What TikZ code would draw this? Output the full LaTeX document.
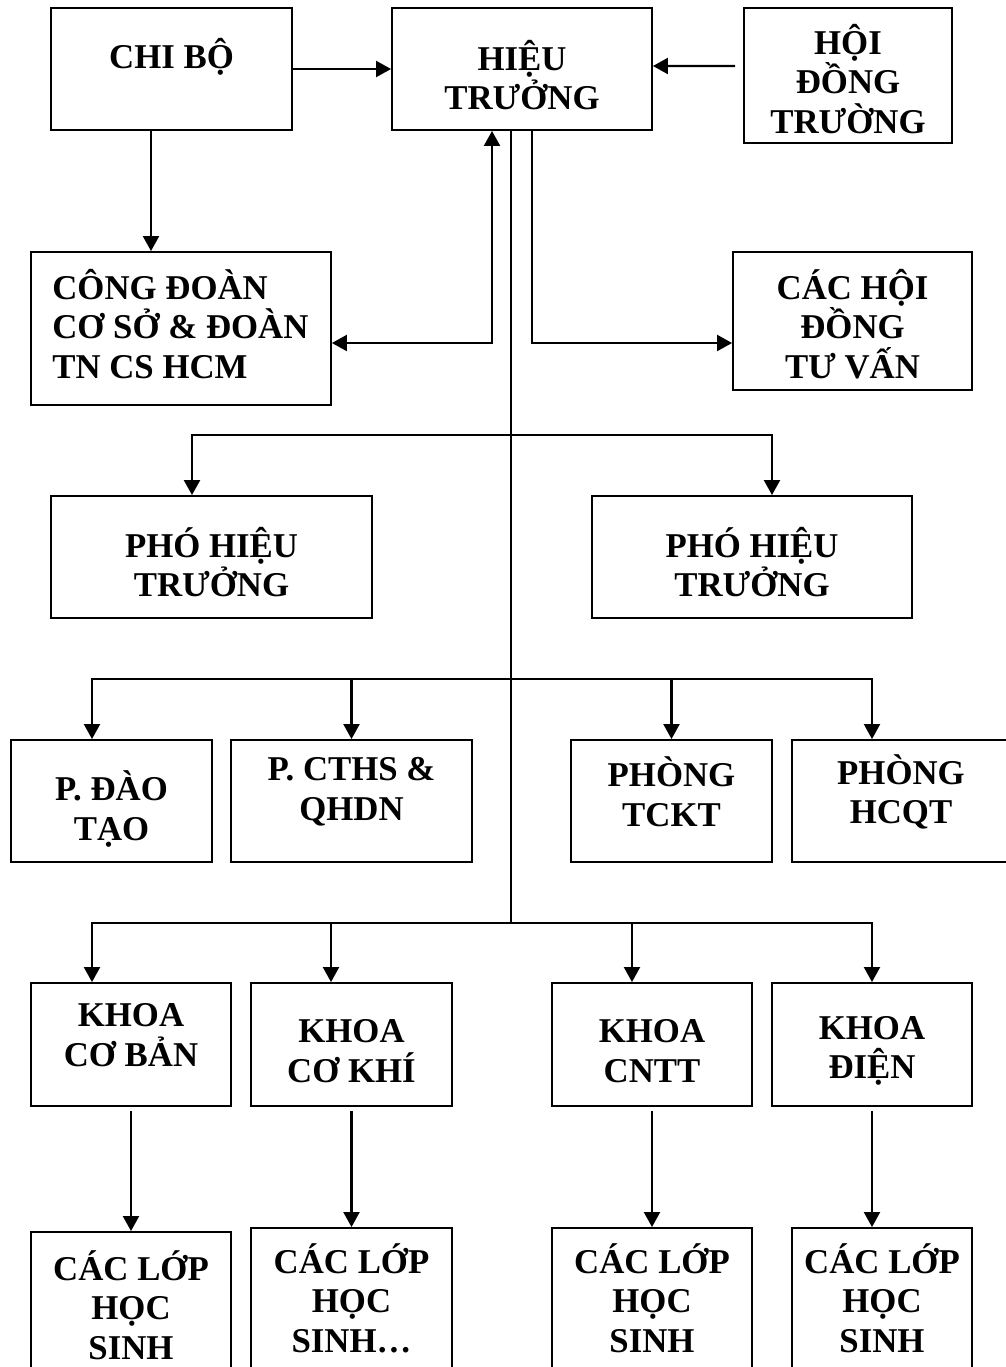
\documentclass[tikz,border=0pt]{standalone}
\usepackage{fontspec}
\setmainfont{Liberation Serif}
\usepackage{tikz}
\usetikzlibrary{arrows.meta,positioning}

\begin{document}
\begin{tikzpicture}[
        x=0.02cm, y=-0.02cm,
        box/.style={draw, line width=1.1pt, inner sep=0pt},
        txt/.style={align=center, inner sep=0pt, font=\bfseries\fontsize{19.8}{22.5}\selectfont},
        arr/.style={line width=1.2pt, -{Triangle[length=0.3cm,width=0.32cm]}},
        twoway/.style={line width=1.2pt, {Triangle[length=0.3cm,width=0.32cm]}-{Triangle[length=0.3cm,width=0.32cm]}},
        trunk/.style={line width=0.9pt}
    ]
    \useasboundingbox (0,0) rectangle (1005,1367);

    % Top row
    \node[box, minimum width=4.82cm, minimum height=2.44cm] (chibo) at (171.5,69) {};
    \node[box, minimum width=5.2cm, minimum height=2.44cm] (hieutruong) at (522,69) {};
    \node[box, minimum width=4.16cm, minimum height=2.7cm] (hoidong) at (848,75.5) {};
    \node[txt] (chibo-t) at (171.5,57) {CHI BỘ};
    \node[txt] (hieutruong-t) at (522,75) {HIỆU\\TRƯỞNG};
    \node[txt] (hoidong-t) at (848,79) {HỘI\\ĐỒNG\\TRƯỜNG};

    % Second row
    \node[box, minimum width=6cm, minimum height=3.06cm] (congdoan) at (181,328.5) {};
    \node[box, minimum width=4.78cm, minimum height=2.76cm] (tuvan) at (852.5,321) {};
    \node[txt, align=left, anchor=west] (congdoan-t) at (52,324) {CÔNG ĐOÀN\\CƠ SỞ \& ĐOÀN\\TN CS HCM};
    \node[txt] (tuvan-t) at (852.5,324) {CÁC HỘI\\ĐỒNG\\TƯ VẤN};

    % Vice principals
    \node[box, minimum width=6.42cm, minimum height=2.44cm] (pho1) at (211.5,557) {};
    \node[box, minimum width=6.4cm, minimum height=2.44cm] (pho2) at (752,557) {};
    \node[txt] (pho1-t) at (211.5,562) {PHÓ HIỆU\\TRƯỞNG};
    \node[txt] (pho2-t) at (752,562) {PHÓ HIỆU\\TRƯỞNG};

    % Offices
    \node[box, minimum width=4.02cm, minimum height=2.44cm] (daotao) at (111.5,801) {};
    \node[box, minimum width=4.82cm, minimum height=2.44cm] (cths) at (351.5,801) {};
    \node[box, minimum width=4.02cm, minimum height=2.44cm] (tckt) at (671.5,801) {};
    \node[box, minimum width=4.36cm, minimum height=2.44cm] (hcqt) at (901,801) {};
    \node[txt] (daotao-t) at (111.5,809) {P. ĐÀO\\TẠO};
    \node[txt] (cths-t) at (351.5,792) {P. CTHS \&\\QHDN};
    \node[txt] (tckt-t) at (671.5,792) {PHÒNG\\TCKT};
    \node[txt] (hcqt-t) at (901,792) {PHÒNG\\HCQT};

    % Faculties
    \node[box, minimum width=4cm, minimum height=2.46cm] (khoa1) at (131,1044.5) {};
    \node[box, minimum width=4.02cm, minimum height=2.46cm] (khoa2) at (351.5,1044.5) {};
    \node[box, minimum width=4cm, minimum height=2.46cm] (khoa3) at (652,1044.5) {};
    \node[box, minimum width=4cm, minimum height=2.46cm] (khoa4) at (872,1044.5) {};
    \node[txt] (khoa1-t) at (131,1035) {KHOA\\CƠ BẢN};
    \node[txt] (khoa2-t) at (351.5,1051) {KHOA\\CƠ KHÍ};
    \node[txt] (khoa3-t) at (652,1051) {KHOA\\CNTT};
    \node[txt] (khoa4-t) at (872,1051) {KHOA\\ĐIỆN};

    % Classes
    \node[box, minimum width=4cm, minimum height=3.16cm] (lop1) at (131,1311) {};
    \node[box, minimum width=4.02cm, minimum height=3.24cm] (lop2) at (351.5,1309) {};
    \node[box, minimum width=4cm, minimum height=3.24cm] (lop3) at (652,1309) {};
    \node[box, minimum width=3.6cm, minimum height=3.24cm] (lop4) at (882,1309) {};
    \node[txt] (lop1-t) at (131,1305) {CÁC LỚP\\HỌC\\SINH};
    \node[txt] (lop2-t) at (351.5,1298) {CÁC LỚP\\HỌC\\SINH…};
    \node[txt] (lop3-t) at (652,1298) {CÁC LỚP\\HỌC\\SINH};
    \node[txt] (lop4-t) at (882,1298) {CÁC LỚP\\HỌC\\SINH};

    % Junctions on the main line
    \coordinate (j1) at (511,435);
    \coordinate (j2) at (511,679);
    \coordinate (j3) at (511,923);

    % Top connections
    \draw[arr] (chibo.east) -- (hieutruong.west);
    \draw[arr] ([xshift=-0.16cm,yshift=0.19cm]hoidong.west) -- ([yshift=0.06cm]hieutruong.east);
    \draw[arr] ([xshift=-0.41cm]chibo.south) -- ([xshift=-0.41cm]chibo.south |- congdoan.north);
    \draw[twoway] ([yshift=-0.29cm]congdoan.east) -| ([xshift=-0.6cm]hieutruong.south);
    \draw[arr] ([xshift=0.2cm]hieutruong.south) |- ([yshift=-0.44cm]tuvan.west);
    \draw[trunk] ([xshift=-0.22cm]hieutruong.south) -- (j3);

    % Branches
    \foreach \n/\s in {pho1/-0.39, pho2/0.4}
        \draw[arr] (j1) -| ([xshift=\s cm]\n.north);
    \foreach \n/\s in {daotao/-0.39, cths/0, tckt/0, hcqt/-0.58}
        \draw[arr] (j2) -| ([xshift=\s cm]\n.north);
    \foreach \n/\s in {khoa1/-0.78, khoa2/-0.41, khoa3/-0.4, khoa4/0}
        \draw[arr] (j3) -| ([xshift=\s cm]\n.north);

    % Faculties to classes
    \foreach \i in {1,...,4}
        \draw[arr] ([yshift=-0.08cm]khoa\i.south) -- (khoa\i.south |- lop\i.north);

\end{tikzpicture}
\end{document}
